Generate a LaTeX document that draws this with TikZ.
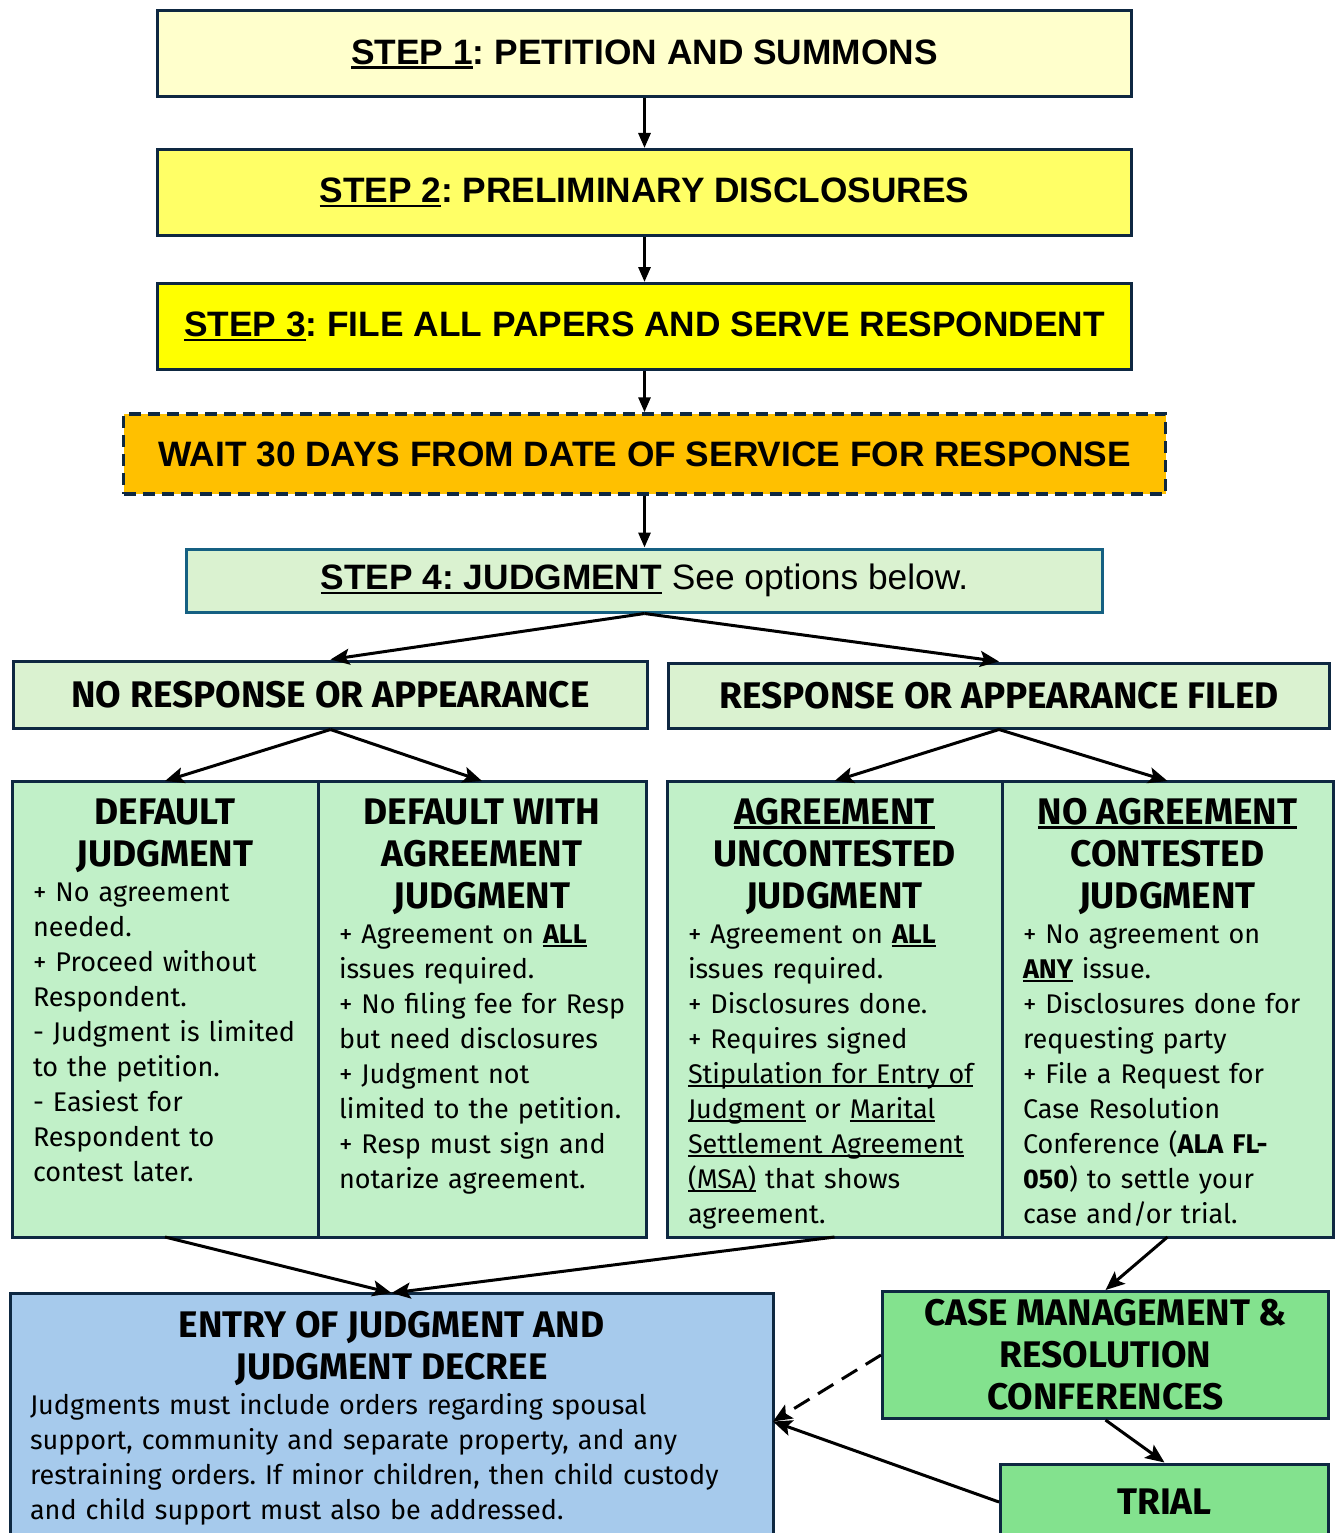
\documentclass[tikz,border=0pt]{standalone}
\usepackage{fontspec}
\setmainfont{Liberation Sans}
\newfontfamily\optfont{Fira Sans}
\usetikzlibrary{arrows.meta,positioning}
\definecolor{navy}{HTML}{0E2841}
\definecolor{stepblue}{HTML}{156082}
\definecolor{paleyellow}{HTML}{FFFFCC}
\definecolor{midyellow}{HTML}{FFFF66}
\definecolor{brightyellow}{HTML}{FFFF00}
\definecolor{waitorange}{HTML}{FFC000}
\definecolor{palegreen}{HTML}{DAF2D0}
\definecolor{optgreen}{HTML}{C1F0C8}
\definecolor{confgreen}{HTML}{83E28E}
\definecolor{entryblue}{HTML}{A6CAEC}
\frenchspacing
\newsavebox{\undlbox}
\newcommand{\undl}[1]{\leavevmode\sbox{\undlbox}{#1}\rlap{\rule[-0.13em]{\wd\undlbox}{0.07em}}\usebox{\undlbox}}
\newcommand{\opthead}{\fontsize{37}{42}\selectfont\bfseries}
\newcommand{\optbody}{\fontsize{27}{35}\selectfont\hyphenpenalty=10000\exhyphenpenalty=10000}

\begin{document}
\begin{tikzpicture}[x=1pt,y=-1pt,
  stepbox/.style={draw=navy,line width=3pt,minimum width=974pt,minimum height=86pt,
    font=\fontsize{35.3}{42}\selectfont\bfseries},
  brbox/.style={draw=navy,line width=3pt,fill=palegreen,font=\optfont\opthead,align=center},
  optbox/.style={draw=navy,line width=3pt,fill=optgreen,outer sep=0pt,align=left,
    font=\optfont\optbody,inner xsep=21pt,inner ysep=8pt,text height=35pt,
    text depth=405pt,anchor=north west},
  flow/.style={-{Triangle[length=15pt,width=12pt]},line width=3pt},
  branch/.style={-{Stealth[length=19pt,width=16pt,inset=4pt]},line width=3pt}]
\clip (0,0) rectangle (1336,1533);

% filing steps
\node[stepbox,fill=paleyellow] (step1) at (644.5,54) {\undl{STEP 1}: PETITION AND SUMMONS};
\node[stepbox,fill=midyellow] (step2) at (644.5,192.5) {\undl{STEP 2}: PRELIMINARY DISCLOSURES};
\node[stepbox,fill=brightyellow] (step3) at (644.5,326.5) {\undl{STEP 3}: FILE ALL PAPERS AND SERVE RESPONDENT};
\node[stepbox,fill=waitorange,line width=3.5pt,dash pattern=on 12pt off 7pt,minimum width=1042pt,minimum height=80pt]
  (wait) at (644.5,454) {WAIT 30 DAYS FROM DATE OF SERVICE FOR RESPONSE};
\node[stepbox,draw=stepblue,fill=palegreen,minimum width=916pt,minimum height=63pt]
  (step4) at (644.5,580.5) {\undl{STEP 4: JUDGMENT} {\mdseries See options below.}};

% response branches
\node[brbox,minimum width=634pt,minimum height=67pt] (noresp) at (330.5,694.5) {NO RESPONSE OR APPEARANCE};
\node[brbox,minimum width=661pt,minimum height=65pt] (resp) at (999,695.5) {RESPONSE OR APPEARANCE FILED};

% judgment options
\node[optbox,text width=264pt] (defj) at (12,781)
  {{\centering\opthead DEFAULT\\JUDGMENT\par}
   + No agreement\\needed.\\+ Proceed without\\Respondent.\\-~Judgment~is~limited\\to the petition.\\
   - Easiest for\\Respondent to\\contest later.};
\node[optbox,text width=286pt,right=0pt of defj] (defagree)
  {{\centering\opthead DEFAULT WITH\\AGREEMENT\\JUDGMENT\par}
   + Agreement on \textbf{\undl{ALL}}\\issues required.\\+~No~filing~fee~for~Resp\\but need disclosures\\
   + Judgment not\\limited~to~the~petition.\\+ Resp must sign and\\notarize agreement.};
\node[optbox,text width=293pt] (agreeunc) at (667,781)
  {{\centering\opthead\undl{AGREEMENT}\\UNCONTESTED\\JUDGMENT\par}
   + Agreement on \textbf{\undl{ALL}}\\issues required.\\+ Disclosures done.\\+ Requires signed\\
   \undl{Stipulation~for~Entry~of}\\\undl{Judgment} or \undl{Marital}\\\undl{Settlement~Agreement}\\
   \undl{(MSA)} that shows\\agreement.};
\node[optbox,text width=289pt,right=0pt of agreeunc] (noagree)
  {{\centering\opthead\undl{NO AGREEMENT}\\CONTESTED\\JUDGMENT\par}
   + No agreement on\\\textbf{\undl{ANY}} issue.\\+~Disclosures~done~for\\requesting party\\
   + File a Request for\\Case Resolution\\Conference (\textbf{ALA FL-}\\\textbf{050}) to settle your\\
   case and/or trial.};

% outcome
\node[optbox,fill=entryblue,text width=723pt,inner xsep=20pt,text height=36pt,text depth=205pt]
  (entry) at (10,1293)
  {{\centering\opthead ENTRY OF JUDGMENT AND\\JUDGMENT DECREE\par}
   Judgments must include orders regarding spousal\\support, community and separate property, and any\\
   restraining orders. If minor children, then child custody\\and child support must also be addressed.};
\node[brbox,fill=confgreen,minimum width=446pt,minimum height=127pt] (casemgmt) at (1105.5,1355)
  {CASE MANAGEMENT \&\\RESOLUTION\\CONFERENCES};
\node[brbox,fill=confgreen,minimum width=328pt,minimum height=76pt] (trial) at (1164.5,1502) {TRIAL};

% connectors
\draw[flow] (step1) -- (step2);
\draw[flow] (step2) -- (step3);
\draw[flow] (step3) -- (wait);
\draw[flow] (wait) -- (step4);
\draw[branch] (step4.south) -- (noresp.north);
\draw[branch] (step4.south) -- (resp.north);
\draw[branch] (noresp.south) -- (defj.north);
\draw[branch] (noresp.south) -- (defagree.north);
\draw[branch] (resp.south) -- (agreeunc.north);
\draw[branch] (resp.south) -- (noagree.north);
\draw[branch] (defj.south) -- (entry.north);
\draw[branch] (agreeunc.south) -- (entry.north);
\draw[branch] (noagree.south) -- (casemgmt.north);
\draw[branch] (casemgmt.south) -- (trial.north);
\draw[branch,dash pattern=on 18pt off 10pt] (casemgmt.west) -- (entry.east);
\draw[branch] (trial.west) -- (entry.east);
\end{tikzpicture}
\end{document}
